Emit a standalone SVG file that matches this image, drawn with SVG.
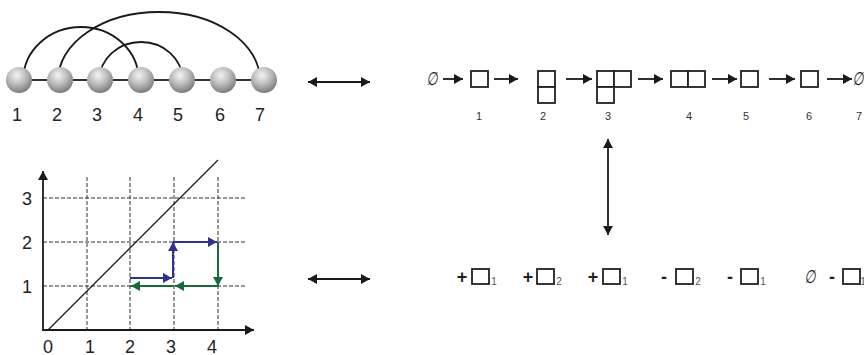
<svg xmlns="http://www.w3.org/2000/svg" width="864" height="355" viewBox="0 0 864 355">
  <style>
    .lbl { font-family: "Liberation Sans", Arial, sans-serif; fill: #222; }
    .big { font-size: 18px; }
    .small { font-size: 11px; fill: #333; }
    .sub { font-size: 10px; fill: #555; }
    .sign { font-size: 18px; font-weight: bold; }
    .empty { font-family: "DejaVu Sans", sans-serif; font-size: 16px; fill: #222; }
    .cell { fill: #fff; stroke: #222; stroke-width: 1.8; }
    .arc { fill: none; stroke: #1a1a1a; stroke-width: 1.8; }
    .arrow { fill: none; stroke: #1a1a1a; stroke-width: 1.8; marker-end: url(#head); }
    .dbl { fill: none; stroke: #1a1a1a; stroke-width: 1.8; marker-start: url(#head); marker-end: url(#head); }
    .grid { fill: none; stroke: #333; stroke-width: 1; stroke-dasharray: 4 2; }
    .axis { fill: none; stroke: #1a1a1a; stroke-width: 1.8; marker-end: url(#head); }
    .blue { fill: none; stroke: #2e3192; stroke-width: 2; marker-end: url(#headBlue); }
    .green { fill: none; stroke: #17683a; stroke-width: 2; marker-end: url(#headGreen); }
  </style>
  <defs>
    <radialGradient id="sphere" cx="0.42" cy="0.32" r="0.68">
      <stop offset="0" stop-color="#f4f4f4"/>
      <stop offset="0.55" stop-color="#b8b8b8"/>
      <stop offset="1" stop-color="#7c7c7c"/>
    </radialGradient>
    <marker id="head" markerUnits="userSpaceOnUse" markerWidth="12" markerHeight="12" refX="9" refY="5" orient="auto-start-reverse">
      <path d="M0,0 L9,5 L0,10 z" fill="#1a1a1a"/>
    </marker>
    <marker id="headBlue" markerUnits="userSpaceOnUse" markerWidth="12" markerHeight="12" refX="9" refY="5" orient="auto">
      <path d="M0,0 L9,5 L0,10 z" fill="#2e3192"/>
    </marker>
    <marker id="headGreen" markerUnits="userSpaceOnUse" markerWidth="12" markerHeight="12" refX="9" refY="5" orient="auto">
      <path d="M0,0 L9,5 L0,10 z" fill="#17683a"/>
    </marker>
  </defs>

  <!-- Arc diagram: chain of seven beads with arcs -->
  <g id="chain-arcs">
    <path class="arc" d="M23.3,80 A57.7,53 0 0 1 138.7,80"/>
    <path class="arc" d="M58.1,80 A100.9,68 0 0 1 259.9,80"/>
    <path class="arc" d="M99.5,80 A41.5,38 0 0 1 182.5,80"/>
    <line x1="19" y1="80" x2="264" y2="80" stroke="#333" stroke-width="2"/>
  </g>
  <g id="bead-1"><circle cx="19" cy="80" r="13" fill="url(#sphere)"/><text class="lbl big" x="17" y="121" text-anchor="middle">1</text></g>
  <g id="bead-2"><circle cx="60" cy="80" r="13" fill="url(#sphere)"/><text class="lbl big" x="57" y="121" text-anchor="middle">2</text></g>
  <g id="bead-3"><circle cx="100" cy="80" r="13" fill="url(#sphere)"/><text class="lbl big" x="97" y="121" text-anchor="middle">3</text></g>
  <g id="bead-4"><circle cx="141" cy="80" r="13" fill="url(#sphere)"/><text class="lbl big" x="138" y="121" text-anchor="middle">4</text></g>
  <g id="bead-5"><circle cx="182" cy="80" r="13" fill="url(#sphere)"/><text class="lbl big" x="178" y="121" text-anchor="middle">5</text></g>
  <g id="bead-6"><circle cx="223" cy="80" r="13" fill="url(#sphere)"/><text class="lbl big" x="220" y="121" text-anchor="middle">6</text></g>
  <g id="bead-7"><circle cx="264" cy="80" r="13" fill="url(#sphere)"/><text class="lbl big" x="260" y="121" text-anchor="middle">7</text></g>

  <!-- Tableau sequence -->
  <g id="seq-start"><text class="empty" transform="translate(432,85) scale(0.8,1.15) skewX(-12)" text-anchor="middle">∅</text></g>
  <g id="seq-1">
    <rect class="cell" x="471" y="71" width="17" height="16"/>
    <text class="lbl small" x="479" y="120" text-anchor="middle">1</text>
  </g>
  <g id="seq-2">
    <rect class="cell" x="538" y="71" width="17" height="16"/>
    <rect class="cell" x="538" y="87" width="17" height="16"/>
    <text class="lbl small" x="543" y="120" text-anchor="middle">2</text>
  </g>
  <g id="seq-3">
    <rect class="cell" x="597" y="71" width="17" height="16"/>
    <rect class="cell" x="614" y="71" width="17" height="16"/>
    <rect class="cell" x="597" y="87" width="17" height="16"/>
    <text class="lbl small" x="608" y="120" text-anchor="middle">3</text>
  </g>
  <g id="seq-4">
    <rect class="cell" x="671" y="71" width="17" height="16"/>
    <rect class="cell" x="688" y="71" width="17" height="16"/>
    <text class="lbl small" x="689" y="120" text-anchor="middle">4</text>
  </g>
  <g id="seq-5">
    <rect class="cell" x="741" y="71" width="17" height="16"/>
    <text class="lbl small" x="746" y="120" text-anchor="middle">5</text>
  </g>
  <g id="seq-6">
    <rect class="cell" x="801" y="71" width="17" height="16"/>
    <text class="lbl small" x="809" y="120" text-anchor="middle">6</text>
  </g>
  <g id="seq-end">
    <text class="empty" transform="translate(858,85) scale(0.8,1.15) skewX(-12)" text-anchor="middle">∅</text>
    <text class="lbl small" x="859" y="120" text-anchor="middle">7</text>
  </g>

  <!-- Signed box word -->
  <g id="word-1"><text class="lbl sign" x="462" y="283" text-anchor="middle">+</text><rect class="cell" x="472" y="269" width="17" height="15"/><text class="lbl sub" x="494" y="285" text-anchor="middle">1</text></g>
  <g id="word-2"><text class="lbl sign" x="528" y="283" text-anchor="middle">+</text><rect class="cell" x="537" y="269" width="17" height="15"/><text class="lbl sub" x="559" y="285" text-anchor="middle">2</text></g>
  <g id="word-3"><text class="lbl sign" x="593" y="283" text-anchor="middle">+</text><rect class="cell" x="603" y="269" width="17" height="15"/><text class="lbl sub" x="625" y="285" text-anchor="middle">1</text></g>
  <g id="word-4"><text class="lbl sign" x="664" y="283" text-anchor="middle">-</text><rect class="cell" x="676" y="269" width="17" height="15"/><text class="lbl sub" x="698" y="285" text-anchor="middle">2</text></g>
  <g id="word-5"><text class="lbl sign" x="730" y="283" text-anchor="middle">-</text><rect class="cell" x="741" y="269" width="17" height="15"/><text class="lbl sub" x="763" y="285" text-anchor="middle">1</text></g>
  <g id="word-6"><text class="empty" transform="translate(810,283) scale(0.8,1.15) skewX(-12)" text-anchor="middle">∅</text><text class="lbl sign" x="832" y="283" text-anchor="middle">-</text><rect class="cell" x="843" y="269" width="17" height="15"/><text class="lbl sub" x="863" y="285" text-anchor="middle">1</text></g>

  <!-- Lattice path plot -->
  <g id="plot">
    <g class="grid">
      <line x1="87" y1="177" x2="87" y2="330"/>
      <line x1="130" y1="177" x2="130" y2="330"/>
      <line x1="174" y1="177" x2="174" y2="330"/>
      <line x1="218" y1="177" x2="218" y2="330"/>
      <line x1="43" y1="198" x2="245" y2="198"/>
      <line x1="43" y1="242" x2="245" y2="242"/>
      <line x1="43" y1="286" x2="245" y2="286"/>
    </g>
    <line x1="48" y1="330" x2="218" y2="160" stroke="#1a1a1a" stroke-width="1.3"/>
    <line class="axis" x1="43" y1="331" x2="43" y2="171"/>
    <line class="axis" x1="42" y1="330" x2="254" y2="330"/>
    <g class="lbl big" text-anchor="middle">
      <text x="27" y="205">3</text>
      <text x="27" y="249">2</text>
      <text x="27" y="293">1</text>
      <text x="48" y="353">0</text>
      <text x="90" y="353">1</text>
      <text x="130" y="353">2</text>
      <text x="171" y="353">3</text>
      <text x="212" y="353">4</text>
    </g>
    <path class="blue" d="M130,278 H172"/>
    <path class="blue" d="M173,278 V242"/>
    <path class="blue" d="M173,242 H217"/>
    <path class="green" d="M218,242 V286"/>
    <path class="green" d="M218,286 H175"/>
    <path class="green" d="M174,286 H131"/>
  </g>

  <!-- Connectors -->
  <g id="connectors">
    <line class="dbl" x1="308" y1="82" x2="370" y2="82"/>
    <line class="dbl" x1="308" y1="279" x2="370" y2="279"/>
    <line class="dbl" x1="608" y1="139" x2="608" y2="235"/>
    <line class="arrow" x1="443" y1="79" x2="463" y2="79"/>
    <line class="arrow" x1="494" y1="79" x2="518" y2="79"/>
    <line class="arrow" x1="566" y1="79" x2="592" y2="79"/>
    <line class="arrow" x1="638" y1="79" x2="663" y2="79"/>
    <line class="arrow" x1="712" y1="79" x2="737" y2="79"/>
    <line class="arrow" x1="769" y1="79" x2="795" y2="79"/>
    <line class="arrow" x1="827" y1="79" x2="852" y2="79"/>
  </g>
</svg>
